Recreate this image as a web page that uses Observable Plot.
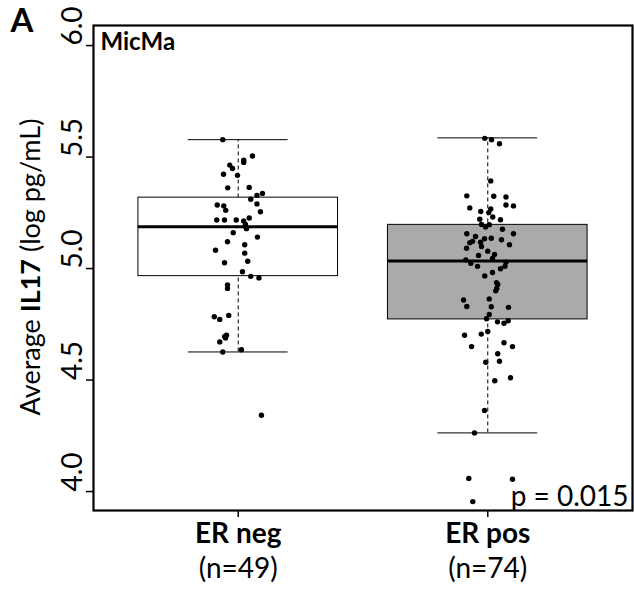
<!DOCTYPE html>
<html>
<head>
<meta charset="utf-8">
<script src="https://cdn.jsdelivr.net/npm/d3@7"></script>
<script src="https://cdn.jsdelivr.net/npm/@observablehq/plot@0.6"></script>
<style>
  html, body { margin: 0; padding: 0; background: white; }
</style>
</head>
<body>
<div id="chart"></div>
<script>
// ---- data ----
const groups = ["ER neg", "ER pos"];
const groupN = ["(n=49)", "(n=74)"];
const groupPos = [1, 2];
const boxQ1 = [4.966, 4.772];
const boxMedian = [5.187, 5.034];
const boxQ3 = [5.318, 5.196];
const whiskerLo = [4.626, 4.263];
const whiskerHi = [5.578, 5.586];
const boxFill = ["white", "#aaaaaa"];
const yTicks = [4.0, 4.5, 5.0, 5.5, 6.0];

const erNegValues = [5.578, 5.505, 5.486, 5.476, 5.464, 5.449, 5.423, 5.418, 5.362, 5.364,
  5.311, 5.328, 5.337, 5.285, 5.281, 5.261, 5.290, 5.255, 5.218, 5.218,
  5.218, 5.213, 5.227, 5.189, 5.179, 5.161, 5.141, 5.120, 5.107, 5.082,
  5.069, 5.033, 5.026, 4.986, 4.965, 4.958, 4.927, 4.911, 4.784, 4.772,
  4.790, 4.701, 4.695, 4.671, 4.626, 4.636, 4.342, 5.198, 4.689];
const erNegJitter = [-0.062, 0.057, 0.022, 0.022, -0.034, -0.023, -0.059, -0.003, -0.042, 0.044,
  0.050, 0.075, 0.097, -0.084, -0.058, -0.050, 0.075, 0.089, -0.086, -0.055,
  -0.008, 0.022, 0.044, 0.029, 0.033, -0.020, 0.077, -0.043, 0.026, -0.091,
  0.026, 0.038, -0.055, 0.017, 0.050, 0.083, -0.043, -0.043, -0.096, -0.074,
  -0.038, -0.047, -0.054, -0.074, -0.062, 0.013, 0.093, 0.029, -0.051];

const erPosValues = [5.584, 5.578, 5.560, 5.393, 5.326, 5.324, 5.321, 5.272, 5.285, 5.281,
  5.256, 5.267, 5.251, 5.221, 5.231, 5.219, 5.198, 5.186, 5.197, 5.176,
  5.156, 5.144, 5.156, 5.122, 5.116, 5.118, 5.134, 5.136, 5.129, 5.107,
  5.091, 5.078, 5.059, 5.063, 5.039, 5.099, 5.045, 5.028, 5.024, 5.010,
  5.010, 4.999, 4.982, 4.967, 4.937, 4.929, 4.911, 4.900, 4.859, 4.864,
  4.830, 4.829, 4.826, 4.794, 4.766, 4.755, 4.761, 4.775, 4.701, 4.706,
  4.718, 4.650, 4.667, 4.650, 4.618, 4.580, 4.584, 4.497, 4.510, 4.364,
  4.263, 4.059, 4.055, 3.955];
const erPosJitter = [-0.012, 0.015, 0.047, 0.012, -0.084, 0.024, 0.073, -0.072, 0.073, 0.103,
  -0.028, 0.012, 0.004, -0.032, 0.020, 0.051, -0.025, -0.009, 0.006, 0.059,
  -0.084, -0.049, 0.103, -0.061, -0.072, -0.029, -0.013, 0.014, 0.055, 0.087,
  -0.085, 0.000, -0.037, 0.027, -0.088, -0.025, 0.019, 0.073, -0.068, -0.041,
  0.069, 0.051, 0.019, -0.012, 0.035, 0.040, 0.036, 0.032, -0.097, 0.006,
  -0.084, 0.014, 0.083, 0.006, 0.082, 0.065, 0.039, -0.005, -0.093, -0.026,
  0.000, -0.065, 0.065, 0.099, 0.040, -0.008, 0.047, 0.028, 0.091, -0.013,
  -0.053, -0.076, 0.099, -0.060];

const panelLetter = "A";
const cohort = "MicMa";
const pText = "p = 0.015";

// ---- derived tables ----
const boxHalf = 0.4, capHalf = 0.2;
const points = [
  ...erNegValues.map((v, i) => ({x: groupPos[0] + erNegJitter[i], y: v})),
  ...erPosValues.map((v, i) => ({x: groupPos[1] + erPosJitter[i], y: v}))
];
const FONT = "Lato, 'Open Sans', sans-serif";

const chart = Plot.plot({
  width: 634,
  height: 596,
  marginLeft: 93,
  marginRight: 2,
  marginTop: 25,
  marginBottom: 86,
  x: {domain: [0.42, 2.58], axis: null},
  y: {domain: [3.915, 6.09], axis: null},
  color: {type: "identity"},
  style: {fontFamily: FONT, background: "white", color: "black"},
  marks: [
    Plot.ruleX(groups, {x: groupPos, y1: whiskerLo, y2: whiskerHi, stroke: "black", strokeWidth: 1, strokeDasharray: "4,3"}),
    Plot.ruleY(groups, {y: whiskerHi, x1: groupPos.map(p => p - capHalf), x2: groupPos.map(p => p + capHalf), stroke: "black", strokeWidth: 1}),
    Plot.ruleY(groups, {y: whiskerLo, x1: groupPos.map(p => p - capHalf), x2: groupPos.map(p => p + capHalf), stroke: "black", strokeWidth: 1}),
    Plot.rect(groups, {x1: groupPos.map(p => p - boxHalf), x2: groupPos.map(p => p + boxHalf), y1: boxQ1, y2: boxQ3, fill: boxFill, stroke: "black", strokeWidth: 1}),
    Plot.ruleY(groups, {y: boxMedian, x1: groupPos.map(p => p - boxHalf), x2: groupPos.map(p => p + boxHalf), stroke: "black", strokeWidth: 3}),
    Plot.dot(points, {x: "x", y: "y", r: 2.7, fill: "black", stroke: "none"}),
    Plot.frame({stroke: "black", strokeWidth: 2.2}),
    Plot.axisY(yTicks, {tickSize: 7, tickFormat: () => "", label: null, strokeWidth: 1.5}),
    Plot.axisX(groupPos, {tickSize: 7, tickFormat: () => "", label: null, strokeWidth: 1.5}),
    Plot.text(yTicks, {y: d => d, text: d => d.toFixed(1), frameAnchor: "left", dx: -20, rotate: -90, fontSize: 28, fill: "black"}),
    Plot.text(groups, {x: groupPos, text: groups, frameAnchor: "bottom", dy: 32, fontSize: 28, fontWeight: "bold"}),
    Plot.text(groupN, {x: groupPos, text: groupN, frameAnchor: "bottom", dy: 67, fontSize: 28}),
    Plot.text([cohort], {text: d => d, frameAnchor: "top-left", textAnchor: "start", lineAnchor: "top", dx: 7, dy: 7, fontSize: 24, fontWeight: "bold"}),
    Plot.text([pText], {text: d => d, frameAnchor: "bottom-right", textAnchor: "end", lineAnchor: "bottom", dx: -4, dy: -5, fontSize: 28}),
    Plot.text([panelLetter], {text: d => d, frameAnchor: "top-left", textAnchor: "start", lineAnchor: "top", dx: -83, dy: -17, fontSize: 33, fontWeight: "bold"})
  ]
});

const svg = d3.select(chart);
const title = svg.append("text")
  .attr("transform", "translate(33,267) rotate(-90)")
  .attr("text-anchor", "middle")
  .attr("dominant-baseline", "middle")
  .attr("font-family", FONT)
  .attr("font-size", 27)
  .attr("fill", "black");
title.append("tspan").text("Average ");
title.append("tspan").attr("font-weight", "bold").text("IL17");
title.append("tspan").text(" (log pg/mL)");

document.getElementById("chart").appendChild(chart);
</script>
</body>
</html>
